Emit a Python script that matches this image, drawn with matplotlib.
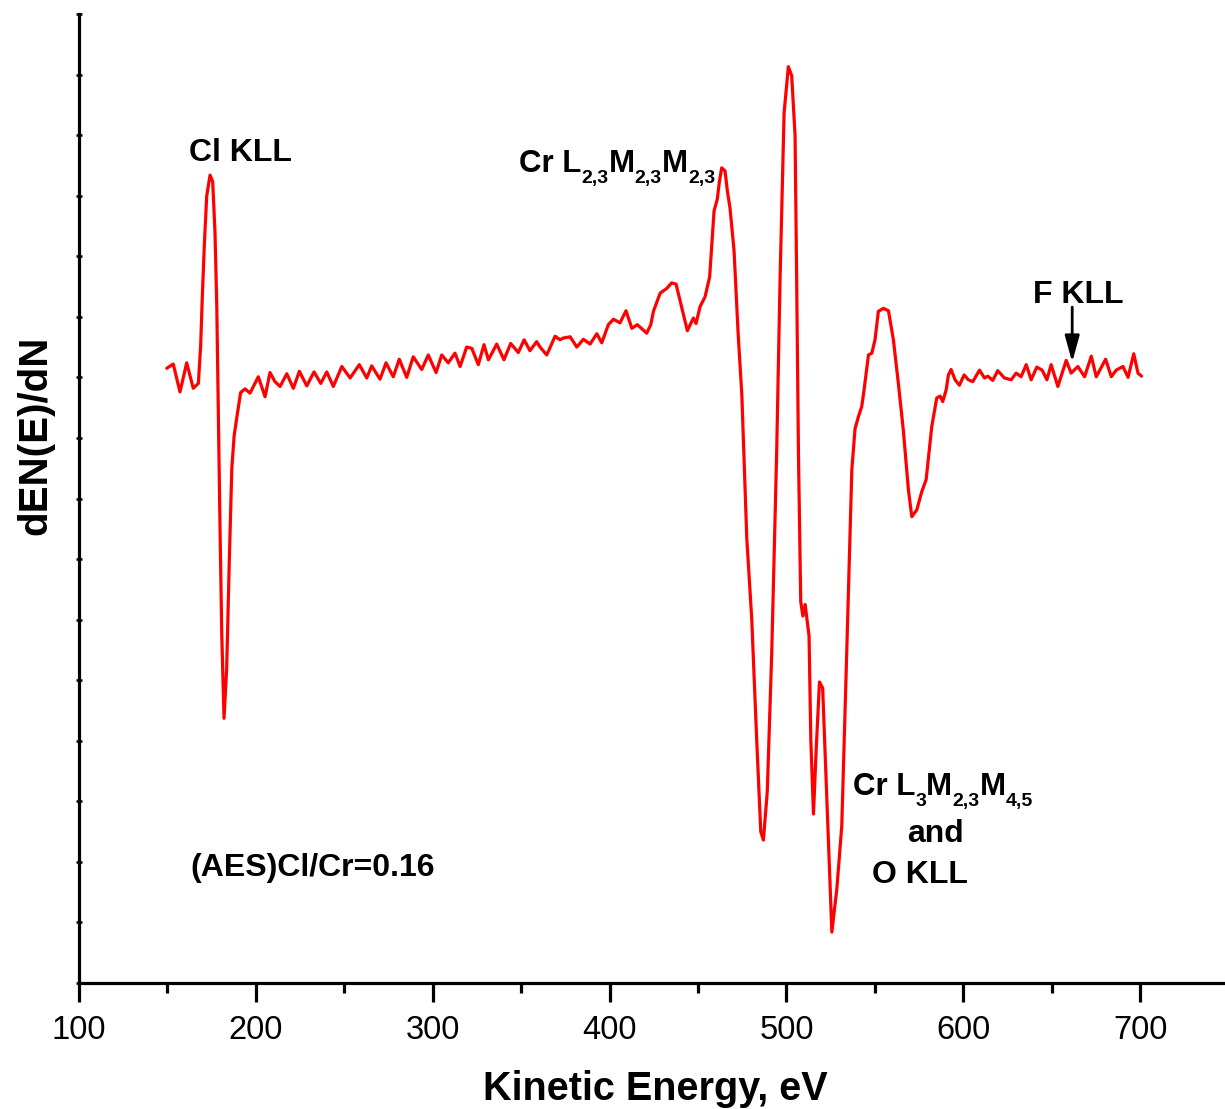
import numpy as np
import matplotlib
matplotlib.use("Agg")
import matplotlib.pyplot as plt
import matplotlib.transforms as mtransforms

plt.rcParams["font.family"] = ["Liberation Sans", "DejaVu Sans"]

# Auger spectrum: kinetic energy (eV) and derivative signal dN(E)/dE (arb. units)
energy = [
    149.6, 153.3, 157.1, 160.9, 164.6, 167.5, 168.8, 169.7, 170.9, 172.2,
    174.1, 175.6, 176.9, 177.9, 178.8, 179.7, 180.7, 182.0, 183.5, 185.0,
    186.4, 187.7, 189.5, 191.4, 193.9, 196.7, 201.4, 205.2, 208.0, 210.8,
    213.7, 217.5, 221.2, 224.6, 228.8, 232.9, 236.7, 240.1, 243.8, 248.6,
    253.3, 258.5, 262.7, 265.5, 270.2, 273.6, 277.7, 281.1, 285.3, 289.0,
    293.8, 297.5, 301.9, 305.1, 308.8, 312.6, 315.5, 319.2, 322.1, 325.8,
    329.0, 331.5, 336.2, 340.3, 344.1, 348.4, 351.7, 355.0, 358.8, 360.7,
    364.5, 369.2, 372.0, 373.9, 377.7, 381.5, 385.2, 389.0, 392.8, 395.6,
    399.3, 402.2, 405.9, 409.3, 412.6, 415.7, 421.0, 423.3, 424.8, 428.6,
    432.4, 435.1, 437.6, 444.0, 447.4, 448.9, 451.2, 454.0, 456.6, 459.1,
    460.9, 462.1, 463.4, 465.3, 466.6, 468.1, 470.4, 472.8, 474.8, 477.6,
    480.4, 483.2, 485.5, 487.0, 489.2, 491.7, 494.5, 496.4, 498.7, 501.1,
    503.0, 504.9, 505.8, 506.8, 508.1, 509.3, 510.6, 512.8, 513.8, 515.3,
    516.8, 518.7, 520.5, 522.8, 525.7, 528.5, 531.3, 534.1, 537.0, 538.8,
    540.7, 542.6, 543.9, 546.4, 548.3, 550.1, 552.0, 554.8, 557.7, 560.5,
    563.3, 566.1, 569.0, 570.9, 573.7, 576.5, 579.0, 582.2, 585.0, 586.9,
    588.4, 590.3, 591.6, 593.1, 595.4, 597.8, 600.5, 602.9, 605.4, 609.2,
    612.0, 613.9, 616.7, 619.5, 623.3, 627.1, 629.9, 632.7, 635.6, 638.4,
    641.6, 644.6, 647.3, 649.7, 653.5, 658.2, 661.0, 664.8, 668.6, 672.4,
    675.2, 680.5, 683.7, 686.5, 690.3, 693.2, 696.4, 698.8, 700.8,
]
signal = [
    10.15, 10.22, 9.76, 10.24, 9.82, 9.90, 10.53, 11.31, 12.21, 12.99,
    13.34, 13.23, 12.39, 11.19, 9.39, 7.59, 5.79, 4.37, 5.19, 6.99,
    8.49, 9.03, 9.39, 9.75, 9.81, 9.74, 10.01, 9.68, 10.08, 9.93,
    9.85, 10.06, 9.82, 10.10, 9.86, 10.09, 9.90, 10.09, 9.85, 10.18,
    9.99, 10.21, 9.99, 10.19, 9.97, 10.24, 10.01, 10.30, 10.00, 10.34,
    10.13, 10.37, 10.08, 10.37, 10.24, 10.40, 10.18, 10.50, 10.48, 10.21,
    10.54, 10.29, 10.55, 10.29, 10.56, 10.41, 10.62, 10.44, 10.59, 10.50,
    10.37, 10.68, 10.62, 10.65, 10.67, 10.50, 10.63, 10.55, 10.72, 10.57,
    10.87, 10.96, 10.90, 11.10, 10.81, 10.87, 10.73, 10.87, 11.09, 11.39,
    11.47, 11.56, 11.54, 10.77, 10.98, 10.89, 11.17, 11.33, 11.66, 12.75,
    12.94, 13.23, 13.46, 13.41, 13.08, 12.80, 12.09, 10.67, 9.71, 7.34,
    6.01, 4.02, 2.50, 2.36, 3.17, 5.45, 8.77, 11.61, 14.37, 15.13,
    14.98, 13.99, 11.61, 8.77, 6.30, 6.06, 6.25, 5.73, 4.02, 2.79,
    3.83, 4.97, 4.87, 3.07, 0.84, 1.55, 2.59, 5.45, 8.48, 9.15,
    9.35, 9.52, 9.79, 10.37, 10.40, 10.62, 11.09, 11.14, 11.10, 10.62,
    9.90, 9.13, 8.14, 7.70, 7.81, 8.11, 8.31, 9.19, 9.66, 9.69,
    9.60, 9.79, 10.04, 10.13, 9.96, 9.87, 10.04, 9.96, 9.93, 10.12,
    9.99, 10.02, 9.95, 10.11, 9.99, 9.96, 10.07, 10.01, 10.21, 9.96,
    10.17, 10.12, 9.96, 10.21, 9.85, 10.28, 10.07, 10.18, 10.01, 10.35,
    10.01, 10.30, 10.01, 10.12, 10.18, 10.00, 10.39, 10.07, 10.02,
]

x_ticks = [100, 200, 300, 400, 500, 600, 700]
x_minor = [150, 250, 350, 450, 550, 650]

W, H = 1225, 1109
fig = plt.figure(figsize=(W / 100, H / 100), dpi=100)
ax = fig.add_axes([79 / W, 1 - 983 / H, (W - 79) / W, (983 - 14) / H])

ax.plot(energy, signal, color="#ff0000", lw=2.3, solid_joinstyle="round",
        solid_capstyle="round")

ax.set_xlim(100, 748)
ax.set_ylim(0, 16)

for side in ("top", "right"):
    ax.spines[side].set_visible(False)
for side in ("left", "bottom"):
    ax.spines[side].set_linewidth(2.3)

ax.set_xticks(x_ticks)
ax.set_xticklabels([str(t) for t in x_ticks])
ax.set_xticks(x_minor, minor=True)
ax.tick_params(axis="x", which="major", direction="out", length=14, width=2.3,
               labelsize=23.5, pad=9)
ax.tick_params(axis="x", which="minor", direction="out", length=7, width=2.3)
ax.set_yticks(np.arange(0, 17, 1))
ax.tick_params(axis="y", which="major", direction="inout", length=4, width=1.8,
               labelleft=False)

fig.text(655 / W, 1 - 1100 / H, "Kinetic Energy, eV", ha="center", va="baseline",
         fontsize=28.5, fontweight="bold")
fig.text(35 / W, 1 - 435 / H, "dEN(E)/dN", ha="center", va="center",
         rotation=90, fontsize=29, fontweight="bold")

renderer = fig.canvas.get_renderer()
MAIN, SUB, SUB_DROP = 22.5, 14, -11  # sizes in pt, subscript drop in pixels


def term_label(x, y, parts):
    """Draw a spectroscopic term with small lowered subscripts, left to right."""
    dx = 0.0
    for i, s in enumerate(parts):
        is_sub = i % 2 == 1
        tr = mtransforms.offset_copy(ax.transData, fig=fig, x=dx,
                                     y=SUB_DROP if is_sub else 0, units="dots")
        t = ax.text(x, y, s, transform=tr, ha="left", va="baseline",
                    fontsize=SUB if is_sub else MAIN, fontweight="bold")
        dx += t.get_window_extent(renderer).width


lab = dict(fontsize=23, fontweight="bold", color="black")
ax.text(162.2, 13.71, "Cl KLL", ha="left", va="center", **lab)
term_label(348.8, 13.39, ["Cr L", "2,3", "M", "2,3", "M", "2,3"])
term_label(537.7, 3.10, ["Cr L", "3", "M", "2,3", "M", "4,5"])
ax.text(584.1, 2.33, "and", ha="center", va="baseline", **lab)
ax.text(575.6, 1.65, "O KLL", ha="center", va="baseline", **lab)
ax.text(162.8, 1.77, "(AES)Cl/Cr=0.16", ha="left", va="baseline", **lab)
ax.text(665.0, 11.23, "F KLL", ha="center", va="baseline", **lab)
ax.annotate("", xy=(661.6, 10.25), xytext=(661.6, 11.16),
            arrowprops=dict(arrowstyle="-|>,head_length=0.8,head_width=0.22",
                            mutation_scale=20, lw=2, color="black",
                            shrinkA=0, shrinkB=0))

fig.savefig("out.png", dpi=100)
